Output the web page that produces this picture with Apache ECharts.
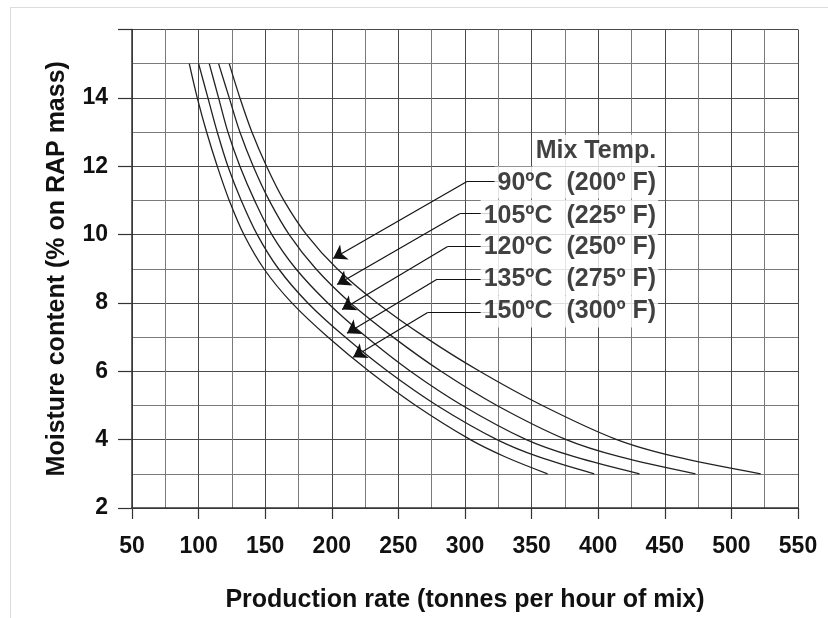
<!DOCTYPE html>
<html><head><meta charset="utf-8">
<script src="https://cdn.jsdelivr.net/npm/echarts@6/dist/echarts.min.js"></script>
<style>
html,body{margin:0;padding:0;background:#fff;}
#frame{position:absolute;left:10px;top:7px;width:900px;height:700px;border-left:1px solid #dcdcdc;border-top:1px solid #dcdcdc;}
#chart{position:absolute;left:0;top:0;width:828px;height:618px;}
</style></head>
<body><div id="frame"></div><div id="chart"></div>
<script>
// Moisture content (% on RAP mass) levels at which the curves are read
const moisture = [15, 14, 13, 12, 11, 10, 9, 8, 7, 6, 5, 4, 3.5, 3];
// Production rate (tonnes per hour of mix) for each mix temperature
const rate90  = [123, 131, 140, 151, 164, 181, 204, 234, 270, 311, 358, 414, 458, 522];
const rate105 = [115, 123, 131, 141, 153, 168, 188, 214, 246, 282, 324, 376, 416, 473];
const rate120 = [108, 115, 122, 131, 142, 155, 173, 197, 226, 259, 298, 346, 382, 431];
const rate135 = [100, 107, 114, 122, 132, 144, 160, 182, 210, 242, 279, 324, 355, 397];
const rate150 = [93, 99, 106, 114, 123, 134, 149, 170, 197, 228, 263, 304, 330, 362];

const curveNames = ['90ºC  (200º F)', '105ºC  (225º F)', '120ºC  (250º F)', '135ºC  (275º F)', '150ºC  (300º F)'];
const legendTitle = 'Mix Temp.';
// label anchor (right end) in data coordinates
const labelX = [445, 445, 445, 445, 445];
const labelY = [11.52, 10.55, 9.62, 8.69, 7.75];
const titleY = 12.45;
// leader lines: start of horizontal segment, bend, arrow tip
const leaderStartX = [326, 319, 319, 319, 319];
const leaderBendX  = [301.5, 296, 287, 279, 272];
const leaderY      = [11.55, 10.61, 9.65, 8.69, 7.72];
const tipX = [201, 204, 207.7, 211.4, 216];
const tipY = [9.30, 8.54, 7.81, 7.11, 6.41];

const xTicks = {min: 50, max: 550, interval: 50};
const yTicks = {min: 2, max: 16, interval: 2};

const bold = "'Liberation Sans', Arial, sans-serif";

const rates = [rate90, rate105, rate120, rate135, rate150];
const curveSeries = rates.map((r, i) => ({
  type: 'line', name: curveNames[i], smooth: 0.35, showSymbol: false, symbol: 'none',
  lineStyle: {color: '#222', width: 1.3},
  data: r.map((v, j) => [v, moisture[j]]),
  z: 3
}));

const chart = echarts.init(document.getElementById('chart'), null, {renderer: 'canvas'});
chart.setOption({
  animation: false,
  grid: {left: 132, right: 30, top: 29.5, bottom: 109, containLabel: false},
  xAxis: {
    type: 'value', min: xTicks.min, max: xTicks.max, interval: xTicks.interval,
    name: 'Production rate (tonnes per hour of mix)', nameLocation: 'middle', nameGap: 80,
    nameTextStyle: {fontFamily: bold, fontWeight: 'bold', fontSize: 25, color: '#111'},
    axisLine: {show: true, lineStyle: {color: '#333', width: 1.5}},
    axisTick: {show: true, length: 11, lineStyle: {color: '#333', width: 1.2}},
    axisLabel: {margin: 27, fontFamily: bold, fontWeight: 'bold', fontSize: 23, color: '#111'},
    splitLine: {show: true, lineStyle: {color: '#4a4a4a', width: 1}},
    minorTick: {show: false, splitNumber: 2},
    minorSplitLine: {show: true, lineStyle: {color: '#7a7a7a', width: 1}}
  },
  yAxis: {
    type: 'value', min: yTicks.min, max: yTicks.max, interval: yTicks.interval,
    name: 'Moisture content (% on RAP mass)', nameLocation: 'middle', nameGap: 62,
    nameTextStyle: {fontFamily: bold, fontWeight: 'bold', fontSize: 25, color: '#111'},
    axisLine: {show: true, lineStyle: {color: '#333', width: 1.5}},
    axisTick: {show: true, length: 14, lineStyle: {color: '#333', width: 1.2}},
    axisLabel: {margin: 24, fontFamily: bold, fontWeight: 'bold', fontSize: 23, color: '#111',
      formatter: v => (v === yTicks.max ? '' : String(v))},
    splitLine: {show: true, lineStyle: {color: '#4a4a4a', width: 1}},
    minorTick: {show: false, splitNumber: 2},
    minorSplitLine: {show: true, lineStyle: {color: '#7a7a7a', width: 1}}
  },
  series: curveSeries.concat([
    {
      type: 'lines', coordinateSystem: 'cartesian2d', polyline: false, z: 4,
      symbol: ['none', 'none'],
      lineStyle: {color: '#111', width: 1.2, opacity: 1},
      data: leaderY.map((y, i) => ({coords: [[leaderStartX[i], y], [leaderBendX[i], y]]}))
    },
    {
      type: 'lines', coordinateSystem: 'cartesian2d', polyline: false, z: 4,
      symbol: ['none', 'arrow'], symbolSize: [1, 13],
      lineStyle: {color: '#111', width: 1.2, opacity: 1},
      data: leaderY.map((y, i) => ({coords: [[leaderBendX[i], y], [tipX[i], tipY[i]]]}))
    },
    {
      type: 'scatter', symbolSize: 0, z: 5, silent: true,
      label: {show: true, position: 'left', distance: 0, formatter: p => p.value[2],
        fontFamily: bold, fontWeight: 'bold', fontSize: 25, lineHeight: 32, color: '#111',
        backgroundColor: '#fff', padding: [0, 2, 0, 3]},
      data: labelX.map((x, i) => [x, labelY[i], curveNames[i]]).concat([[labelX[0], titleY, legendTitle]])
    }
  ])
});
</script>
</body></html>
